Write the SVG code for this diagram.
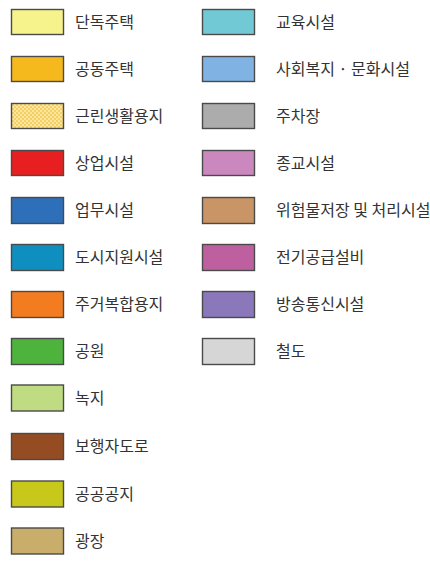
<svg xmlns="http://www.w3.org/2000/svg" width="430" height="562" viewBox="0 0 430 562">
<style>
.sw{stroke:#4a4a4a;stroke-width:1.4}
.t{font-family:"Noto Sans CJK KR","Noto Sans",sans-serif;font-size:16px;fill:#333}
</style>
<defs>
<pattern id="chk" x="0" y="0" width="4" height="4" patternUnits="userSpaceOnUse">
<rect width="4" height="4" fill="#fbe6a0"/>
<rect width="2" height="2" fill="#f6cf63"/>
<rect x="2" y="2" width="2" height="2" fill="#f6cf63"/>
</pattern>
</defs>
<rect width="430" height="562" fill="#fff"/>
<g id="l1"><rect class="sw" x="11.5" y="9.5" width="52" height="25" fill="#f6f28c"/><text class="t" x="75" y="27.5">단독주택</text></g>
<g id="l2"><rect class="sw" x="11.5" y="56.5" width="52" height="25" fill="#f5b91d"/><text class="t" x="75" y="74.5">공동주택</text></g>
<g id="l3"><rect class="sw" x="11.5" y="103.5" width="52" height="25" fill="url(#chk)"/><text class="t" x="75" y="121.5">근린생활용지</text></g>
<g id="l4"><rect class="sw" x="11.5" y="150.5" width="52" height="25" fill="#e81f20"/><text class="t" x="75" y="168.5">상업시설</text></g>
<g id="l5"><rect class="sw" x="11.5" y="197.5" width="52" height="26" fill="#2e6fba"/><text class="t" x="75" y="215.5">업무시설</text></g>
<g id="l6"><rect class="sw" x="11.5" y="244.5" width="52" height="26" fill="#0f8fc0"/><text class="t" x="75" y="262.5">도시지원시설</text></g>
<g id="l7"><rect class="sw" x="11.5" y="291.5" width="52" height="26" fill="#f47c20"/><text class="t" x="75" y="309.5">주거복합용지</text></g>
<g id="l8"><rect class="sw" x="11.5" y="338.5" width="52" height="26" fill="#4db33d"/><text class="t" x="75" y="356.5">공원</text></g>
<g id="l9"><rect class="sw" x="11.5" y="385" width="52" height="26" fill="#bfdc82"/><text class="t" x="75" y="403.5">녹지</text></g>
<g id="l10"><rect class="sw" x="11.5" y="433.5" width="52" height="26" fill="#954c23"/><text class="t" x="75" y="451.5">보행자도로</text></g>
<g id="l11"><rect class="sw" x="11.5" y="481" width="52" height="26" fill="#c8c81a"/><text class="t" x="75" y="499.5">공공공지</text></g>
<g id="l12"><rect class="sw" x="11.5" y="528" width="52" height="26" fill="#c8ae6a"/><text class="t" x="75" y="546.5">광장</text></g>
<g id="r1"><rect class="sw" x="202.5" y="9.5" width="52" height="25" fill="#72c9d6"/><text class="t" x="276" y="27.5">교육시설</text></g>
<g id="r2"><rect class="sw" x="202.5" y="56.5" width="52" height="25" fill="#80b3e3"/><text class="t" x="276" y="74.5">사회복지 · 문화시설</text></g>
<g id="r3"><rect class="sw" x="202.5" y="103.5" width="52" height="25" fill="#acacac"/><text class="t" x="276" y="121.5">주차장</text></g>
<g id="r4"><rect class="sw" x="202.5" y="150.5" width="52" height="25" fill="#cb88bf"/><text class="t" x="276" y="168.5">종교시설</text></g>
<g id="r5"><rect class="sw" x="202.5" y="197.5" width="52" height="26" fill="#c99466"/><text class="t" x="276" y="215.5">위험물저장 및 처리시설</text></g>
<g id="r6"><rect class="sw" x="202.5" y="244.5" width="52" height="26" fill="#be5fa0"/><text class="t" x="276" y="262.5">전기공급설비</text></g>
<g id="r7"><rect class="sw" x="202.5" y="291.5" width="52" height="26" fill="#8a78bb"/><text class="t" x="276" y="309.5">방송통신시설</text></g>
<g id="r8"><rect class="sw" x="202.5" y="338.5" width="52" height="26" fill="#d6d6d6"/><text class="t" x="276" y="356.5">철도</text></g>
</svg>
